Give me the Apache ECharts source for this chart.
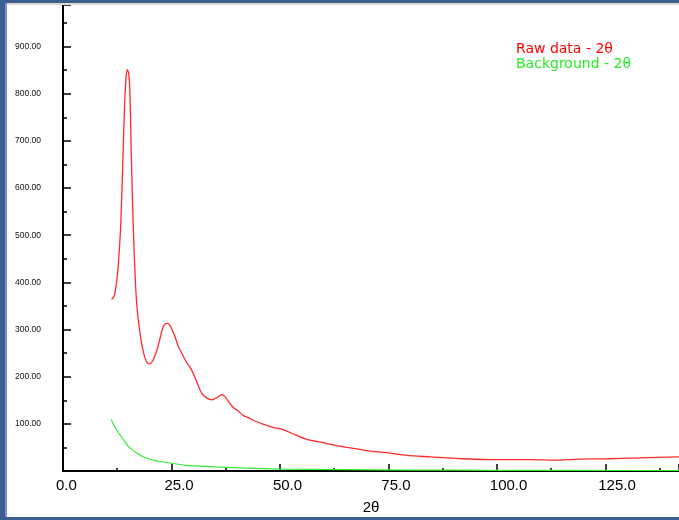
<!DOCTYPE html>
<html>
<head>
<meta charset="utf-8">
<script src="https://cdn.jsdelivr.net/npm/echarts@6/dist/echarts.min.js"></script>
<style>
html,body{margin:0;padding:0;background:#fff;}
#chart{width:679px;height:520px;}
</style>
</head>
<body>
<div id="chart"></div>
<script>
// ---- data ----
const rawTheta = [11.2,11.6,11.95,12.3,12.65,12.95,13.3,13.6,13.9,14.2,14.5,14.8,15.1,15.4,15.7,16.0,16.2,16.4,16.95,17.7,18.5,19.25,19.85,20.8,21.9,23.1,23.9,24.6,25.8,26.6,27.6,28.5,29.6,30.8,31.95,33.1,34.3,35.4,36.6,37.3,38.1,39.2,40.4,41.5,42.7,44.2,46.9,48.5,50.0,51.2,53.5,56.2,60.0,63.1,66.9,70.8,75.4,79.2,84.6,92.3,100.0,107.7,113.1,119.2,125.4,133.1,142.0];
const rawIntensity = [364,368,376,397,425,464,520,600,690,775,830,851,845,810,690,580,520,464,359,296,253,232,227,236,264,306,313,310,285,264,246,230,215,190,165,155,151,155,162,158,148,135,127,118,113,106,97,92,90,86,77,67,60,54,48,42,38,33,30,26,24,24,23,25,26,28,30];
const bgTheta = [11.1,12.3,13.9,15.4,17.7,20.0,23.9,28.5,34.6,40.8,50,65,80,100,120,142];
const bgIntensity = [109,88,67,49,34,25,18,12,9,6.5,4,3,2,1.5,1.2,1];
const seriesNames = ['Raw data - 2\u03b8','Background - 2\u03b8'];
const xName = '2\u03b8';
const xMin = 0, xMax = 142, xStep = 25;
const yMin = 0, yMax = 988, yStep = 100;

const zip = (a,b) => a.map((v,i) => [v,b[i]]);
const chart = echarts.init(document.getElementById('chart'), null, {renderer:'canvas'});
const font = 'Liberation Sans, Arial, sans-serif';
const gridTop = 5, gridBottom = 47.5, gridLeft = 63;

chart.setOption({
  backgroundColor:'#ffffff',
  animation:false,
  grid:[
    {left:gridLeft, right:0, top:gridTop, bottom:gridBottom},
    {left:gridLeft-7, width:616, top:gridTop, bottom:gridBottom}
  ],
  legend:{
    orient:'vertical', left:506, top:37, itemGap:1, itemWidth:0, itemHeight:14, icon:'none',
    selectedMode:false,
    data:[
      {name:seriesNames[0], textStyle:{color:'#ff0000'}},
      {name:seriesNames[1], textStyle:{color:'#22ee22'}}
    ],
    textStyle:{fontFamily:'DejaVu Sans, Verdana, sans-serif', fontSize:14, padding:[0,0,0,0]}
  },
  xAxis:[
    {type:'value', gridIndex:0, min:xMin, max:xMax, interval:xStep,
     name:xName, nameLocation:'middle', nameGap:29,
     nameTextStyle:{color:'#000', fontFamily:font, fontSize:15},
     axisLine:{onZero:false, lineStyle:{color:'#000', width:2}},
     axisTick:{show:true, inside:true, length:7, lineStyle:{color:'#000', width:1.5}},
     minorTick:{show:true, splitNumber:2, length:3, lineStyle:{color:'#000', width:1.5}},
     axisLabel:{show:false}, splitLine:{show:false}},
    {type:'value', gridIndex:1, min:xMin, max:xMax, interval:xStep,
     axisLine:{show:false}, axisTick:{show:false}, splitLine:{show:false},
     axisLabel:{show:true, align:'left', margin:6, color:'#000', fontFamily:font, fontSize:15,
       showMaxLabel:false, formatter:v => v.toFixed(1)}}
  ],
  yAxis:[
    {type:'value', gridIndex:0, min:yMin, max:yMax, interval:yStep,
     axisLine:{onZero:false, lineStyle:{color:'#000', width:2}},
     axisTick:{show:true, inside:true, length:8, lineStyle:{color:'#000', width:1.5}},
     minorTick:{show:true, splitNumber:2, length:4, lineStyle:{color:'#000', width:1.5}},
     axisLabel:{show:true, margin:22, color:'#111', fontFamily:font, fontSize:8.5,
       showMinLabel:false, showMaxLabel:false, formatter:v => v.toFixed(2)},
     splitLine:{show:false}},
    {type:'value', gridIndex:1, min:yMin, max:yMax, show:false}
  ],
  series:[
    {name:seriesNames[0], type:'line', xAxisIndex:0, yAxisIndex:0, data:zip(rawTheta, rawIntensity),
     smooth:0.3, showSymbol:false, symbol:'none', lineStyle:{color:'#ff2a2a', width:1.3}, itemStyle:{color:'#ff0000'}},
    {name:seriesNames[1], type:'line', xAxisIndex:0, yAxisIndex:0, data:zip(bgTheta, bgIntensity),
     smooth:0.3, showSymbol:false, symbol:'none', lineStyle:{color:'#33ee33', width:1.2}, itemStyle:{color:'#22ee22'}}
  ],
  graphic:[
    {type:'rect', shape:{x:0,y:0,width:679,height:3}, style:{fill:'#3b5e90'}, silent:true, z:100},
    {type:'rect', shape:{x:7,y:3,width:672,height:2}, style:{fill:'#dcd9cf'}, silent:true, z:100},
    {type:'rect', shape:{x:0,y:0,width:5,height:520}, style:{fill:'#3b5e90'}, silent:true, z:100},
    {type:'rect', shape:{x:5,y:3,width:2,height:514}, style:{fill:'#7d90e4'}, silent:true, z:100},
    {type:'rect', shape:{x:0,y:517,width:679,height:3}, style:{fill:'#3b5e90'}, silent:true, z:100}
  ]
});
</script>
</body>
</html>
